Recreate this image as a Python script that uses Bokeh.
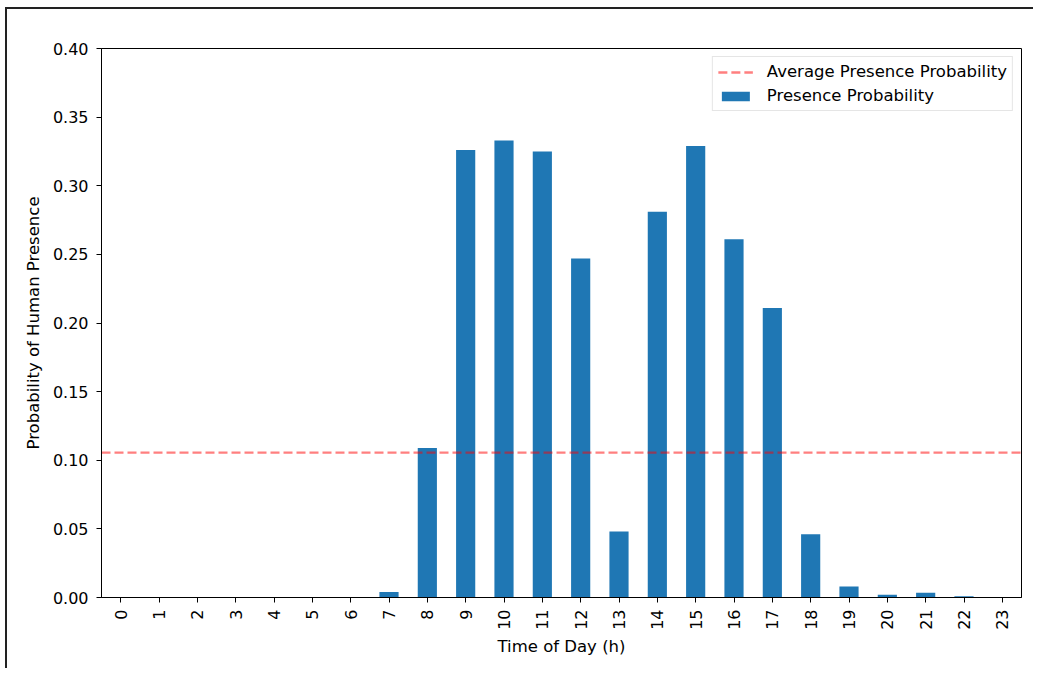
import math
from bokeh.plotting import figure
from bokeh.models import Legend, LegendItem, Range1d, SingleIntervalTicker, NumeralTickFormatter
from bokeh.embed import file_html
from bokeh.resources import INLINE

hours = [str(h) for h in range(24)]
presence = [0, 0, 0, 0, 0, 0, 0, 0.004, 0.109, 0.326, 0.333, 0.325, 0.247, 0.048,
            0.281, 0.329, 0.261, 0.211, 0.046, 0.008, 0.002, 0.0035, 0.001, 0]
average_presence = 0.1056

FONT = "DejaVu Sans"
FS_TICK = "16px"
FS_LABEL = "16.5px"

p = figure(x_range=hours, y_range=Range1d(0, 0.40), width=1028, height=661,
           output_backend="svg", toolbar_location=None,
           min_border_left=94, min_border_top=39, min_border_right=14, min_border_bottom=73)
p.styles = {"border-left": "2px solid #222", "border-top": "2px solid #222",
            "margin-left": "5px", "margin-top": "7px"}

bars = p.vbar(x=hours, top=presence, width=0.5, fill_color="#1f77b4", line_color=None)

avg_line = p.line(x=[(hours[0], -0.5), (hours[-1], 0.5)], y=[average_presence, average_presence],
                  line_color="red", line_alpha=0.5, line_width=2.3, line_dash="9 4")

legend = Legend(items=[LegendItem(label="Average Presence Probability", renderers=[avg_line]),
                       LegendItem(label="Presence Probability", renderers=[bars])],
                location="top_right", margin=8, padding=5, spacing=5,
                glyph_width=35, glyph_height=12, label_height=18, label_standoff=14,
                label_text_font=FONT, label_text_font_size=FS_LABEL, label_text_color="black",
                border_line_color="#cccccc", border_line_width=1, background_fill_alpha=0.8)
p.add_layout(legend)

p.xgrid.visible = False
p.ygrid.visible = False
p.outline_line_color = "black"
p.outline_line_width = 1

p.yaxis.ticker = SingleIntervalTicker(interval=0.05)
p.yaxis.formatter = NumeralTickFormatter(format="0.00")
p.yaxis.minor_tick_line_color = None

for ax in (p.xaxis[0], p.yaxis[0]):
    ax.axis_line_color = "black"
    ax.axis_line_width = 1
    ax.major_tick_line_color = "black"
    ax.major_tick_out = 5
    ax.major_tick_in = 0
    ax.major_label_text_font = FONT
    ax.major_label_text_font_size = FS_TICK
    ax.major_label_text_color = "black"
    ax.axis_label_text_font = FONT
    ax.axis_label_text_font_size = FS_LABEL
    ax.axis_label_text_font_style = "normal"
    ax.axis_label_text_color = "black"

p.xaxis.axis_label = "Time of Day (h)"
p.yaxis.axis_label = "Probability of Human Presence"
p.xaxis.major_label_orientation = math.pi / 2
p.xaxis.major_label_standoff = 7
p.yaxis.major_label_standoff = 8
p.xaxis.axis_label_standoff = 4
p.yaxis.axis_label_standoff = 7

open("out.html", "w").write(file_html(p, INLINE))
